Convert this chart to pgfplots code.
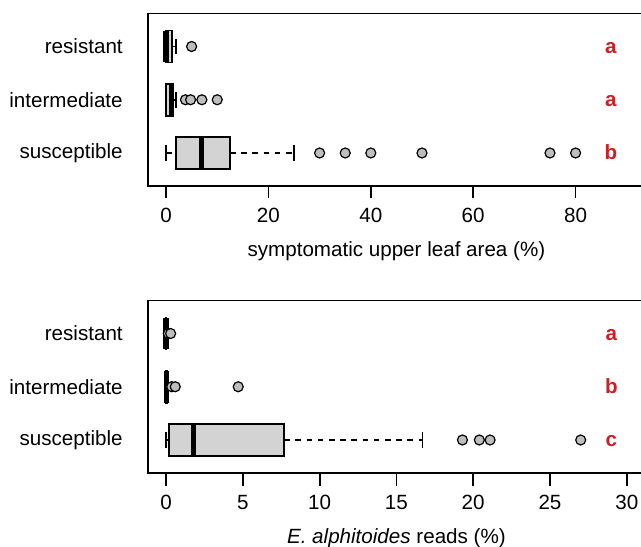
\documentclass[border=0pt]{standalone}
\usepackage{fontspec}
\setmainfont{Liberation Sans}
\usepackage{pgfplots}
\pgfplotsset{compat=1.18}
\definecolor{BoxFill}{RGB}{211,211,211}
\definecolor{PtFill}{RGB}{190,190,190}
\definecolor{Letter}{RGB}{205,32,38}
\newcommand{\fs}{\fontsize{10.3bp}{12.4bp}\selectfont}
\pgfplotsset{
    rpanel/.style={
        scale only axis, width=248.8bp, height=86.25bp,
        anchor=south west,
        ymin=0.38, ymax=3.62,
        ytick={1,2,3}, yticklabels={susceptible,intermediate,resistant},
        y tick style={draw=none},
        xtick pos=bottom,
        tick align=outside, major tick length=6.25bp,
        axis line style={line width=0.9bp},
        x tick style={line width=0.9bp, black},
        tick label style={font=\fs},
        /pgf/number format/assume math mode=true,
        xticklabel style={anchor=north, inner sep=0pt},
        xticklabel shift=4.75bp,
        yticklabel style={anchor=east, inner sep=0pt, xshift=-6bp},
        xlabel style={at={(axis description cs:0.5,0)}, anchor=base,
                      inner sep=0pt, yshift=-35.3bp, font=\fs},
    },
    whisk/.style={black, line width=0.9bp, dash pattern=on 2.8bp off 2.8bp},
    wcap/.style={black, line width=0.9bp},
    rbox/.style={draw=black, fill=BoxFill, line width=0.9bp},
    med/.style={black, line width=2.6bp},
    outl/.style={only marks, mark=*, mark size=2.5bp,
                 mark options={fill=PtFill, draw=black, line width=0.6bp}},
}
\tikzset{lett/.style={text=Letter, font=\fs\bfseries, anchor=base, inner sep=0pt, yshift=-3.4bp}}
\begin{document}
\begin{tikzpicture}
\useasboundingbox (0,0) rectangle (320.5bp,273.5bp);
\clip (0,0) rectangle (320.5bp,273.5bp);

% upper panel: symptomatic leaf area
\begin{axis}[rpanel, at={(73.8bp,180.5bp)},
    xmin=-3.6, xmax=93.6, xtick={0,20,40,60,80},
    xlabel={symptomatic upper leaf area (\%)}]
% resistant
\addplot[whisk] coordinates {(1.1,3) (2,3)};
\addplot[wcap] coordinates {(2,2.85) (2,3.15)};
\addplot[rbox] coordinates {(0,2.7) (1.1,2.7) (1.1,3.3) (0,3.3)} -- cycle;
\addplot[med] coordinates {(0,2.7) (0,3.3)};
\addplot[outl] coordinates {(5,3)};
% intermediate
\addplot[whisk] coordinates {(1.4,2) (2,2)};
\addplot[wcap] coordinates {(2,1.85) (2,2.15)};
\addplot[rbox] coordinates {(0,1.7) (1.4,1.7) (1.4,2.3) (0,2.3)} -- cycle;
\addplot[med] coordinates {(1.0,1.7) (1.0,2.3)};
\addplot[outl] coordinates {(3.8,2) (4.8,2) (7,2) (10,2)};
% susceptible
\addplot[whisk] coordinates {(0,1) (2,1)};
\addplot[whisk] coordinates {(12.5,1) (25,1)};
\addplot[wcap] coordinates {(0,0.85) (0,1.15)};
\addplot[wcap] coordinates {(25,0.85) (25,1.15)};
\addplot[rbox] coordinates {(2,0.7) (12.5,0.7) (12.5,1.3) (2,1.3)} -- cycle;
\addplot[med] coordinates {(7,0.7) (7,1.3)};
\addplot[outl] coordinates {(30,1) (35,1) (40,1) (50,1) (75,1) (80,1)};
\node[lett] at (axis cs:86.9,3) {a};
\node[lett] at (axis cs:86.9,2) {a};
\node[lett] at (axis cs:86.9,1) {b};
\end{axis}

% lower panel: E. alphitoides reads
\begin{axis}[rpanel, at={(73.8bp,37bp)},
    xmin=-1.2, xmax=31.2, xtick={0,5,10,15,20,25,30},
    xlabel={\textit{E. alphitoides} reads (\%)}]
% resistant
\addplot[rbox] coordinates {(0,2.7) (0.03,2.7) (0.03,3.3) (0,3.3)} -- cycle;
\addplot[med] coordinates {(0,2.7) (0,3.3)};
\addplot[outl] coordinates {(0.15,3) (0.3,3)};
% intermediate
\addplot[rbox] coordinates {(0,1.7) (0.05,1.7) (0.05,2.3) (0,2.3)} -- cycle;
\addplot[med] coordinates {(0.02,1.7) (0.02,2.3)};
\addplot[outl] coordinates {(0.37,2) (0.6,2) (4.7,2)};
% susceptible
\addplot[whisk] coordinates {(0,1) (0.17,1)};
\addplot[whisk] coordinates {(7.7,1) (16.7,1)};
\addplot[wcap] coordinates {(0,0.85) (0,1.15)};
\addplot[wcap] coordinates {(16.7,0.85) (16.7,1.15)};
\addplot[rbox] coordinates {(0.17,0.7) (7.7,0.7) (7.7,1.3) (0.17,1.3)} -- cycle;
\addplot[med] coordinates {(1.78,0.7) (1.78,1.3)};
\addplot[outl] coordinates {(19.3,1) (20.4,1) (21.1,1) (27.0,1)};
\node[lett] at (axis cs:29.0,3) {a};
\node[lett] at (axis cs:29.0,2) {b};
\node[lett] at (axis cs:29.0,1) {c};
\end{axis}
\end{tikzpicture}
\end{document}
